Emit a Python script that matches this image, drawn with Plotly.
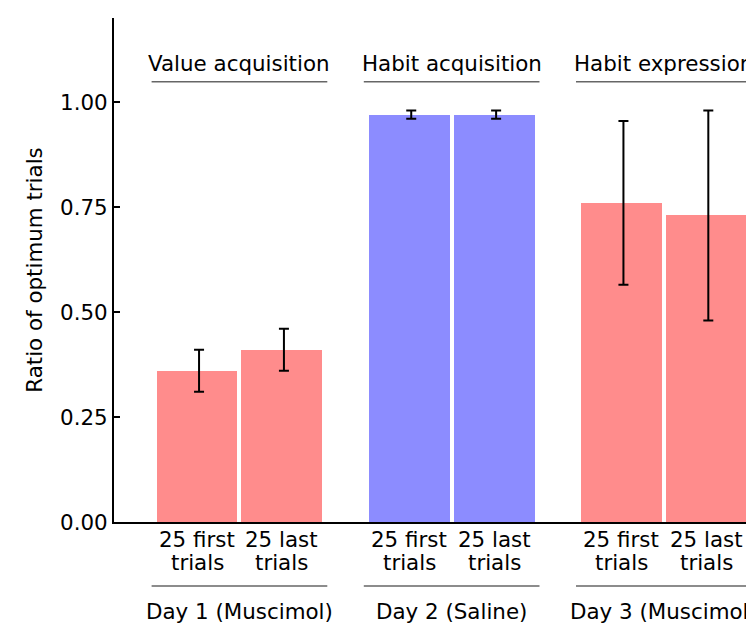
import plotly.graph_objects as go

# ---- data ----
group_titles = ["Value acquisition", "Habit acquisition", "Habit expression"]
day_labels = ["Day 1 (Muscimol)", "Day 2 (Saline)", "Day 3 (Muscimol)"]
bar_labels = ["25 first<br>trials", "25 last<br>trials"]
values = [0.36, 0.41, 0.97, 0.97, 0.76, 0.73]
errors = [0.05, 0.05, 0.01, 0.01, 0.195, 0.25]
group_colors = ["rgb(255,140,140)", "rgb(140,140,255)", "rgb(255,140,140)"]
y_ticks = [0.0, 0.25, 0.50, 0.75, 1.00]

# ---- layout helpers ----
GROUP_STEP = 2.5
ERR_OFFSET = 0.024
n_groups = len(group_titles)
n_bars = len(bar_labels)
xs, cols, labs = [], [], []
for g in range(n_groups):
    for b in range(n_bars):
        xs.append(g * GROUP_STEP + b)
        cols.append(group_colors[g])
        labs.append(bar_labels[b])
group_centers = [g * GROUP_STEP + (n_bars - 1) / 2 for g in range(n_groups)]

FONT = "DejaVu Sans"
FS = 21.4

fig = go.Figure()
fig.add_trace(go.Bar(
    x=xs, y=values, width=0.953,
    marker=dict(color=cols, line=dict(width=0)),
    showlegend=False, hoverinfo="skip",
))
fig.add_trace(go.Scatter(
    x=[x + ERR_OFFSET for x in xs], y=values, mode="markers",
    marker=dict(size=0.1, color="rgba(0,0,0,0)"),
    error_y=dict(type="data", array=errors, visible=True, color="black",
                 thickness=2, width=5),
    showlegend=False,
))

annotations = []
shapes = []
for x, lab in zip(xs, labs):
    lines = lab.split("<br>")
    for i, ln in enumerate(lines):
        annotations.append(dict(
            x=x, xref="x", y=0, yref="paper", yanchor="middle", xanchor="center",
            yshift=-17.5 - 23.3 * i, text=ln, showarrow=False,
            font=dict(family=FONT, size=FS, color="black")))
for gc, title, day in zip(group_centers, group_titles, day_labels):
    annotations.append(dict(
        x=gc, xref="x", y=1, yref="paper", yanchor="middle", xanchor="center",
        yshift=-45.5, text=title, showarrow=False,
        font=dict(family=FONT, size=FS, color="black")))
    annotations.append(dict(
        x=gc, xref="x", y=0, yref="paper", yanchor="middle", xanchor="center",
        yshift=-89, text=day, showarrow=False,
        font=dict(family=FONT, size=FS, color="black")))
    shapes.append(dict(type="line", xref="x", yref="paper",
                       x0=gc - 1.035, x1=gc + 1.035, y0=0.8736, y1=0.8736,
                       line=dict(color="#666666", width=1.5)))
    shapes.append(dict(type="line", xref="x", yref="paper",
                       x0=gc - 1.035, x1=gc + 1.035, y0=-0.127, y1=-0.127,
                       line=dict(color="#666666", width=1.5)))

fig.update_layout(
    width=746, height=628,
    margin=dict(l=114, r=0, t=18, b=106),
    plot_bgcolor="white", paper_bgcolor="white",
    font=dict(family=FONT, size=FS, color="black"),
    bargap=0,
    annotations=annotations,
    shapes=shapes,
    xaxis=dict(range=[-0.978, 6.468], showgrid=False, zeroline=False,
               showticklabels=False, ticks="", showline=True,
               linecolor="black", linewidth=2),
    yaxis=dict(range=[0, 1.2], showgrid=False, zeroline=False,
               tickvals=y_ticks, tickformat=".2f", ticks="inside",
               ticklen=6, tickwidth=1.5, tickcolor="black",
               showline=True, linecolor="black", linewidth=2,
               tickfont=dict(family=FONT, size=FS, color="black"),
               title=dict(text="Ratio of optimum trials", standoff=12,
                          font=dict(family=FONT, size=FS, color="black"))),
)

fig.write_html("out.html",
               config={"displayModeBar": False},
               post_script="document.body.style.margin='0px';"
                           "document.body.style.overflow='hidden';")
